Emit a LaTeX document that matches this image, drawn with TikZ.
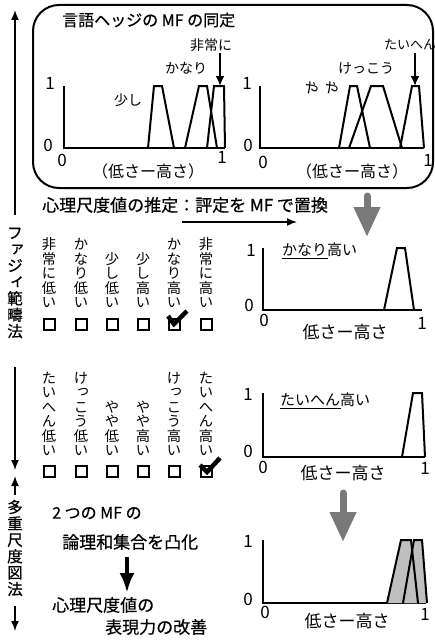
\documentclass[tikz,border=0pt]{standalone}
\usepackage{fontspec}
\setmainfont{Noto Sans CJK JP}
\newfontfamily\hdr[FakeBold=0.6]{Noto Sans CJK JP}
\usetikzlibrary{arrows.meta}
\newcommand\vsm[1]{\makebox[1em][l]{\hspace{0.15em}\raisebox{0.12em}{#1}}}
\begin{document}
\begin{tikzpicture}[x=1pt,y=-1pt,
  axis/.style={line width=2pt, line join=miter},
  mf/.style={line width=2pt, line join=miter},
  fz/.style={font=\fontsize{#1}{#1}\selectfont, inner sep=0pt},
  hz/.style={font=\hdr\fontsize{#1}{#1}\selectfont, inner sep=0pt},
  lbl/.style={fz=14},
  num/.style={fz=17},
  vtext/.style={align=center, inner sep=0pt, anchor=south, font=\fontsize{14.3}{14.5}\selectfont},
  sidetext/.style={align=center, inner sep=0pt, font=\hdr\fontsize{15.5}{16.4}\selectfont},
  cbox/.style={draw, line width=2pt, minimum size=11pt, inner sep=0pt},
  checkm/.style={line width=4.5pt, line join=miter},
  sidearrow/.style={line width=1.5pt, -{Latex[length=10pt,width=8pt]}},
  barrow/.style={line width=2pt, -{Latex[length=10pt,width=9pt]}},
  thickarrow/.style={line width=4pt, -{Latex[length=20pt,width=15pt]}},
  garrow/.style={draw=gray!95!black, line width=7pt, line cap=round, -{Triangle[width=25pt,length=30pt]}},
  mffill/.style={fill=black!25}
]
\useasboundingbox (0,0) rectangle (435,642);

% ---------------- top rounded box ----------------
\draw[line width=2pt, rounded corners=26pt] (33,5) rectangle (433,188);
\node[hz=16, anchor=west] (title) at (62,20) {言語ヘッジの MF の同定};

% left chart
\draw[axis] (64,86) -- (64,148) -- (225,148);
\node[num] (a1) at (50,83) {1};
\node[num] (a0) at (48,145) {0};
\node[num] (a0b) at (62,160) {0};
\node[num] (a1b) at (222,157) {1};
\node[fz=16] (ax) at (148,171) {（低さー高さ）};
\draw[mf] (148,148) -- (154,86) -- (162,86) -- (174,148);
\draw[mf] (185,148) -- (199,86) -- (207,86) -- (217,148);
\draw[mf] (207,148) -- (214,86) -- (224,86) -- (225,148);
\node[lbl] (sukoshi) at (128,100) {少し};
\node[lbl] (kanari) at (186,68) {かなり};
\node[lbl] (hijou) at (211,45) {非常に};
\coordinate (hA) at (220,53);
\coordinate (hB) at (220,86);
\draw[barrow] (hA) -- (hB);

% right chart
\draw[axis] (260,86) -- (260,148) -- (424,148);
\node[num] (b1) at (247,83) {1};
\node[num] (b0) at (248,145) {0};
\node[num] (b0b) at (263,162) {0};
\node[num] (b1b) at (428,160) {1};
\node[fz=16] (bx) at (352,171) {（低さー高さ）};
\draw[mf] (339,148) -- (350,86) -- (357,86) -- (370,148);
\draw[mf] (349,148) -- (371,86) -- (383,86) -- (402,148);
\draw[mf] (400,148) -- (412,86) -- (419,86) -- (424,148);
\node[fz=15] (yaya) at (322,88) {\rotatebox[origin=c]{-30}{や}\rotatebox[origin=c]{-30}{や}};
\node[lbl] (kekkou) at (366,68) {けっこう};
\node[fz=13] (taihen) at (410,45) {たいへん};
\coordinate (tA) at (415,53);
\coordinate (tB) at (415,86);
\draw[barrow] (tA) -- (tB);

% ---------------- estimation line ----------------
\node[hz=17, anchor=west] (est) at (42,205) {心理尺度値の推定：評定を MF で置換};
\coordinate (eA) at (182,222);
\coordinate (eB) at (297,222);
\draw[line width=1.5pt, -{Latex[length=10pt,width=8pt]}] (eA) -- (eB);
\coordinate (g1A) at (367,196);
\coordinate (g1B) at (367,237);
\draw[garrow] (g1A) -- (g1B);

% ---------------- side labels ----------------
\coordinate (s1A) at (15,215);
\coordinate (s1B) at (15,10);
\draw[sidearrow] (s1A) -- (s1B);
\node[sidetext] (fuzzy) at (15,283) {フ\\\vsm{ァ}\\ジ\\\vsm{ィ}\\範\\疇\\法};
\coordinate (s2A) at (15,367);
\coordinate (s2B) at (15,470);
\draw[sidearrow] (s2A) -- (s2B);
\coordinate (s3A) at (15,495);
\coordinate (s3B) at (15,476);
\draw[sidearrow] (s3A) -- (s3B);
\node[sidetext] (mds) at (15,548) {多\\重\\尺\\度\\図\\法};
\coordinate (s4A) at (15,606);
\coordinate (s4B) at (15,631);
\draw[sidearrow] (s4A) -- (s4B);

% ---------------- row 1 ----------------
\node[vtext] (r11) at (49,308) {非\\常\\に\\低\\い};
\node[vtext] (r12) at (81,308) {か\\な\\り\\低\\い};
\node[vtext] (r13) at (112,308) {少\\し\\低\\い};
\node[vtext] (r14) at (143,308) {少\\し\\高\\い};
\node[vtext] (r15) at (174,308) {か\\な\\り\\高\\い};
\node[vtext] (r16) at (206,308) {非\\常\\に\\高\\い};
\node[cbox] (c11) at (49,324) {};
\node[cbox] (c12) at (81,324) {};
\node[cbox] (c13) at (112,324) {};
\node[cbox] (c14) at (143,324) {};
\node[cbox] (c15) at (174,324) {};
\node[cbox] (c16) at (206,324) {};
\draw[checkm] ([shift={(-6,-8)}]c15.center) -- ([shift={(0,0)}]c15.center) -- ([shift={(13,-13)}]c15.center);

\draw[axis] (263,248) -- (263,310) -- (422,310);
\node[num] (p1) at (251,250) {1};
\node[num] (p0) at (249,305) {0};
\node[num] (p0b) at (264,320) {0};
\node[num] (p1b) at (422,323) {1};
\node[fz=17] (px) at (345,332) {低さー高さ};
\draw[mf] (384,310) -- (397,248) -- (405,248) -- (414,310);
\node[fz=15, anchor=west] (kt) at (282,250) {かなり高い};
\draw[line width=0.8pt] ([yshift=-1pt]kt.south west) -- ++(46,0);

% ---------------- row 2 ----------------
\node[vtext] (r21) at (49,456) {た\\い\\へ\\ん\\低\\い};
\node[vtext] (r22) at (81,456) {け\\\vsm{っ}\\こ\\う\\低\\い};
\node[vtext] (r23) at (112,456) {や\\や\\低\\い};
\node[vtext] (r24) at (143,456) {や\\や\\高\\い};
\node[vtext] (r25) at (174,456) {け\\\vsm{っ}\\こ\\う\\高\\い};
\node[vtext] (r26) at (206,456) {た\\い\\へ\\ん\\高\\い};
\node[cbox] (c21) at (49,471) {};
\node[cbox] (c22) at (81,471) {};
\node[cbox] (c23) at (112,471) {};
\node[cbox] (c24) at (143,471) {};
\node[cbox] (c25) at (174,471) {};
\node[cbox] (c26) at (206,471) {};
\draw[checkm] ([shift={(-6,-6)}]c26.center) -- ([shift={(1,1)}]c26.center) -- ([shift={(14,-13)}]c26.center);

\draw[axis] (263,393) -- (263,457) -- (425,457);
\node[num] (q1) at (248,394) {1};
\node[num] (q0) at (248,451) {0};
\node[num] (q0b) at (263,467) {0};
\node[num] (q1b) at (425,468) {1};
\node[fz=17] (qx) at (343,473) {低さー高さ};
\draw[mf] (402,457) -- (413,393) -- (422,393) -- (425,457);
\node[fz=15, anchor=west] (tt) at (280,400) {たいへん高い};
\draw[line width=0.8pt] ([yshift=-1pt]tt.south west) -- ++(61,0);

% ---------------- bottom ----------------
\coordinate (g2A) at (343,493);
\coordinate (g2B) at (343,542);
\draw[garrow] (g2A) -- (g2B);
\node[hz=16, anchor=west] (two) at (52,513) {2 つの MF の};
\node[hz=17, anchor=west] (union) at (62,542) {論理和集合を凸化};
\coordinate (kA) at (127,557);
\coordinate (kB) at (127,593);
\draw[thickarrow] (kA) -- (kB);
\node[hz=17, anchor=west] (psy) at (52,605) {心理尺度値の};
\node[hz=17, anchor=west] (imp) at (105,627) {表現力の改善};

\draw[axis] (263,540) -- (263,603) -- (426,603);
\node[num] (u1) at (248,541) {1};
\node[num] (u0) at (248,599) {0};
\node[num] (u0b) at (265,612) {0};
\node[num] (u1b) at (425,614) {1};
\node[fz=17] (ux) at (347,621) {低さー高さ};
\fill[mffill] (387,603) -- (401,540) -- (411,540) -- (418,603) -- cycle;
\fill[mffill] (403,603) -- (414,540) -- (422,540) -- (427,603) -- cycle;
\draw[mf] (387,603) -- (401,540) -- (411,540) -- (418,603);
\draw[mf] (403,603) -- (414,540) -- (422,540) -- (427,603);
\end{tikzpicture}
\end{document}
